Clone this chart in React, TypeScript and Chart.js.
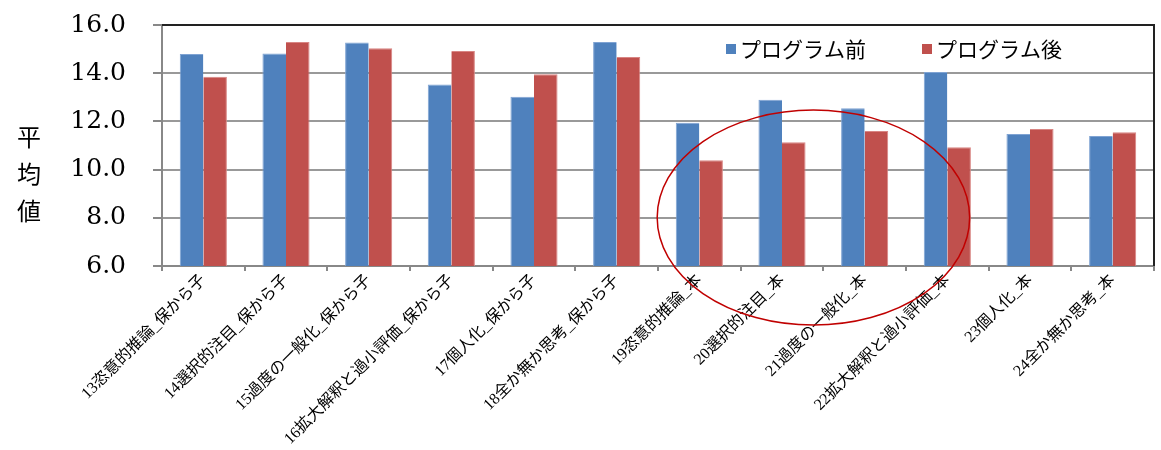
import React, { useEffect, useRef } from 'react';
import { Chart, registerables } from 'chart.js';

Chart.register(...registerables);

const categories = [
  '13恣意的推論_保から子',
  '14選択的注目_保から子',
  '15過度の一般化_保から子',
  '16拡大解釈と過小評価_保から子',
  '17個人化_保から子',
  '18全か無か思考_保から子',
  '19恣意的推論_本',
  '20選択的注目_本',
  '21過度の一般化_本',
  '22拡大解釈と過小評価_本',
  '23個人化_本',
  '24全か無か思考_本',
];

const seriesNames = ['プログラム前', 'プログラム後'];
const beforeValues = [14.8, 14.82, 15.27, 13.53, 13.02, 15.29, 11.94, 12.9, 12.55, 14.05, 11.48, 11.39];
const afterValues = [13.85, 15.29, 15.04, 14.92, 13.96, 14.67, 10.39, 11.14, 11.6, 10.93, 11.68, 11.55];

const yTitleChars = ['平', '均', '値'];

const BLUE = '#4F81BD';
const RED = '#C0504D';
const JP_SANS = '"Noto Sans CJK JP", "Noto Sans", sans-serif';

// legend, axis title, frame and the red ring drawn straight onto the canvas
const decorations = {
  id: 'decorations',
  afterDraw(chart: any) {
    const { ctx, chartArea, scales } = chart;
    const x = scales.x;
    const y = scales.y;
    ctx.save();

    // dark frame on top and right
    ctx.strokeStyle = '#222';
    ctx.lineWidth = 2;
    ctx.beginPath();
    ctx.moveTo(chartArea.left, chartArea.top);
    ctx.lineTo(chartArea.right, chartArea.top);
    ctx.lineTo(chartArea.right, chartArea.bottom);
    ctx.stroke();

    // legend inside the plot
    ctx.font = '21px ' + JP_SANS;
    ctx.textBaseline = 'middle';
    ctx.fillStyle = BLUE;
    ctx.fillRect(726, 44, 10, 10);
    ctx.fillStyle = '#000';
    ctx.fillText(seriesNames[0], 740, 49);
    ctx.fillStyle = RED;
    ctx.fillRect(922, 44, 10, 10);
    ctx.fillStyle = '#000';
    ctx.fillText(seriesNames[1], 936, 49);

    // vertical y title
    ctx.font = '24px ' + JP_SANS;
    ctx.textAlign = 'center';
    yTitleChars.forEach((c, i) => ctx.fillText(c, 29, 137 + i * 37));

    // red ellipse annotation
    const left = x.getPixelForValue(5.49);
    const right = x.getPixelForValue(9.27);
    const top = y.getPixelForValue(12.47);
    const bottom = y.getPixelForValue(3.55);
    ctx.strokeStyle = '#C00000';
    ctx.lineWidth = 1.5;
    ctx.beginPath();
    ctx.ellipse((left + right) / 2, (top + bottom) / 2, (right - left) / 2, (bottom - top) / 2, 0, 0, Math.PI * 2);
    ctx.stroke();
    ctx.restore();
  },
};

const App: React.FC = () => {
  const chartRef = useRef<HTMLCanvasElement>(null);
  const chartInstance = useRef<Chart | null>(null);

  useEffect(() => {
    document.body.style.margin = '0';
    if (!chartRef.current) return;
    if (chartInstance.current) chartInstance.current.destroy();

    chartInstance.current = new Chart(chartRef.current, {
      type: 'bar',
      data: {
        labels: categories,
        datasets: [
          {
            label: seriesNames[0],
            data: beforeValues,
            backgroundColor: BLUE,
            borderColor: '#7FA3D3',
            borderWidth: { top: 1, left: 1, right: 0, bottom: 0 },
            barPercentage: 1,
            categoryPercentage: 0.57,
          },
          {
            label: seriesNames[1],
            data: afterValues,
            backgroundColor: RED,
            borderColor: '#D88583',
            borderWidth: { top: 1, left: 0, right: 1, bottom: 0 },
            barPercentage: 1,
            categoryPercentage: 0.57,
          },
        ],
      },
      options: {
        animation: false,
        responsive: false,
        maintainAspectRatio: false,
        layout: { padding: { top: 25, right: 7, left: 0, bottom: 0 } },
        scales: {
          x: {
            afterFit: (scale: any) => {
              scale.height = 184;
              scale.paddingLeft = 0;
              scale.paddingRight = 0;
            },
            grid: {
              offset: true,
              drawOnChartArea: false,
              drawTicks: true,
              tickLength: 5,
              color: '#888',
              lineWidth: 2,
            },
            border: { color: '#888', width: 2 },
            ticks: {
              autoSkip: false,
              maxRotation: 45,
              minRotation: 45,
              color: '#000',
              padding: 0,
              font: { family: '"Liberation Serif", "Noto Sans CJK JP", serif', size: 16 },
            },
          },
          y: {
            min: 6,
            max: 16,
            afterFit: (scale: any) => {
              scale.width = 162;
              scale.paddingTop = 0;
              scale.paddingBottom = 0;
            },
            grid: {
              color: '#999',
              lineWidth: 2,
              tickLength: 9,
              tickColor: '#888',
            },
            border: { color: '#888', width: 2 },
            ticks: {
              stepSize: 2,
              color: '#000',
              padding: 27,
              callback: (v: any) => Number(v).toFixed(1),
              font: { family: '"DejaVu Serif", serif', size: 25 },
            },
          },
        },
        plugins: {
          legend: { display: false },
          title: { display: false },
          tooltip: { enabled: false },
        },
      },
      plugins: [decorations],
    });

    return () => {
      if (chartInstance.current) {
        chartInstance.current.destroy();
        chartInstance.current = null;
      }
    };
  }, []);

  return (
    <div style={{ width: 1161, height: 450, background: '#fff' }}>
      <canvas ref={chartRef} width={1161} height={450} />
    </div>
  );
};

export default App;
